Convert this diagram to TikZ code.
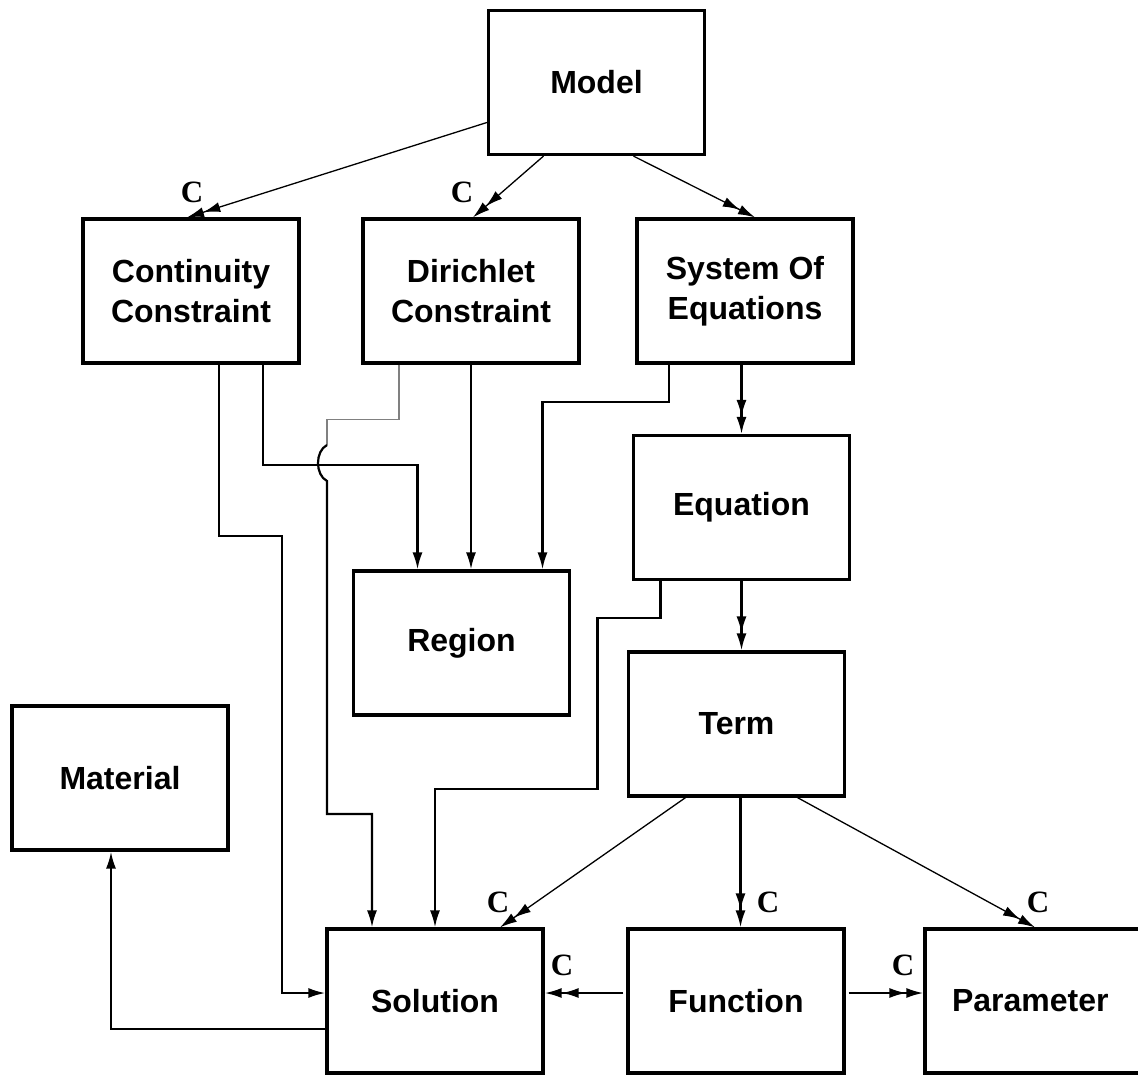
\documentclass[tikz,border=0pt]{standalone}
\usepackage{fontspec}
\setmainfont{Liberation Serif}
\setsansfont{Liberation Sans}
\usetikzlibrary{arrows.meta,positioning}

\begin{document}
\begin{tikzpicture}[
    x=1pt,y=-1pt,
    box/.style={draw,line width=3.2pt,minimum width=216pt,minimum height=144pt,align=center,
      font=\sffamily\bfseries\fontsize{32}{40}\selectfont},
    link/.style={line width=2.2pt,-{Latex[length=17pt,width=10pt]}},
    comp/.style={line width=2.2pt,-{Latex[length=17pt,width=10pt]Latex[length=17pt,width=10pt]}},
    compdiag/.style={comp,line width=1.3pt},
    tag/.style={font=\rmfamily\bfseries\fontsize{31}{31}\selectfont,inner sep=0pt}
  ]
  \useasboundingbox (0,0) rectangle (1138,1074);

  \node[box] (model) at (596.5,82.5) {Model};
  \node[box] (cont) at (191,291) {Continuity\\Constraint};
  \node[box] (diri) at (471,291) {Dirichlet\\Constraint};
  \node[box] (sys) at (745,291) {System Of\\Equations};
  \node[box] (eq) at (741.5,507.5) {Equation};
  \node[box] (region) at (461.5,643) {Region};
  \node[box] (term) at (736.5,724) {Term};
  \node[box] (mat) at (120,778) {Material};
  \node[box] (sol) at (435,1001) {Solution};
  \node[box] (func) at (736,1001) {Function};
  \node[box,minimum width=300pt,inner xsep=0pt,text width=246pt,align=left] (param) at (1075,1001) {Parameter};

  % labels
  \node[tag] (c1) at (192,192) {C};
  \node[tag] (c2) at (462,192) {C};
  \node[tag] (c3) at (498,902) {C};
  \node[tag] (c4) at (768,902) {C};
  \node[tag] (c5) at (1038,902) {C};
  \node[tag] (c6) at (562,965) {C};
  \node[tag] (c7) at (903,965) {C};

  % model
  \draw[compdiag] ([yshift=-40pt]model.west) -- ([xshift=-4pt]cont.north);
  \draw[compdiag] ([xshift=-53pt]model.south) -- ([xshift=2pt]diri.north);
  \draw[compdiag] ([xshift=37pt]model.south) -- ([xshift=10pt]sys.north);

  % constraints
  \draw[link] ([xshift=28pt]cont.south) -- ++(0,171) -- ++(63,0) |- ([yshift=8pt]sol.west);
  \draw[link] ([xshift=72pt]cont.south) -- ++(0,100) -| ([xshift=-44pt]region.north);
  \draw[link] (diri.south) -- (diri.south |- region.north);
  \coordinate (jumpin) at (327,445);
  \draw[gray,line width=1.3pt] ([xshift=-72pt]diri.south) -- ++(0,55) -| (jumpin);
  \draw[link] (jumpin) .. controls (315,451) and (315,475) .. (327,481)
    -- ++(0,333) -| ([xshift=-63pt]sol.north);

  % equations
  \draw[link] ([xshift=-76pt]sys.south) -- ++(0,37) -| ([xshift=81pt]region.north);
  \draw[comp] (eq.north |- sys.south) -- (eq.north);
  \draw[comp] (eq.south) -- (eq.south |- term.north);
  \draw[link] ([xshift=-81pt]eq.south) -- ++(0,37) -- ++(-63,0) -- ++(0,171) -| (sol.north);

  % term
  \draw[compdiag] ([xshift=-51pt]term.south) -- ([xshift=65pt]sol.north);
  \draw[comp] ([xshift=4pt]term.south) -- ([xshift=4pt]term.south |- func.north);
  \draw[compdiag] ([xshift=61pt]term.south) -- ([xshift=-40pt]param.north);

  % function and solution
  \draw[comp,shorten <=3pt] ([yshift=8pt]func.west) -- ([yshift=8pt]sol.east);
  \draw[comp,shorten <=3pt] ([yshift=8pt]func.east) -- ([yshift=8pt]param.west);
  \draw[link] ([yshift=-28pt]sol.west) -| ([xshift=-9pt]mat.south);
\end{tikzpicture}
\end{document}
